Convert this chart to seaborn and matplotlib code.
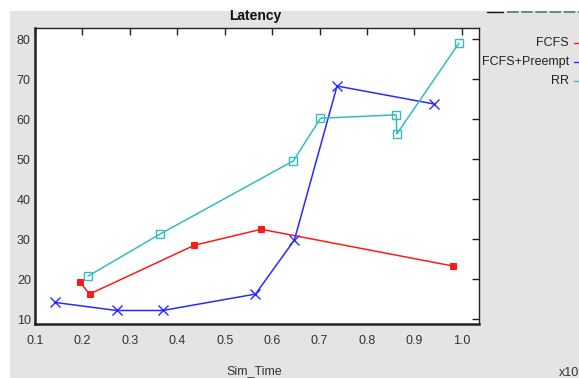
import numpy as np
import pandas as pd
import matplotlib
matplotlib.use("Agg")
import matplotlib.pyplot as plt
from matplotlib.patches import Rectangle
from matplotlib.lines import Line2D
import seaborn as sns

# valeurs
fcfs_x = [0.194, 0.215, 0.436, 0.577, 0.982]
fcfs_y = [19.4, 16.3, 28.5, 32.5, 23.3]

preempt_x = [0.143, 0.272, 0.369, 0.565, 0.647, 0.737, 0.942]
preempt_y = [14.2, 12.2, 12.2, 16.3, 29.8, 68.3, 63.8]

rr_x = [0.212, 0.363, 0.645, 0.702, 0.862, 0.863, 0.994]
rr_y = [20.8, 31.25, 49.6, 60.25, 61.1, 56.3, 79.0]

series_names = ["FCFS", "FCFS+Preempt", "RR"]
x_ticks = [0.1, 0.2, 0.3, 0.4, 0.5, 0.6, 0.7, 0.8, 0.9, 1.0]
y_ticks = [10, 20, 30, 40, 50, 60, 70, 80]

sns.set_style("white")
plt.rcParams["font.family"] = ["Liberation Sans", "DejaVu Sans"]

bg = "#e4e4e4"
fig = plt.figure(figsize=(5.79, 3.78), dpi=100)
fig.patch.set_facecolor("white")
fig.patches.append(Rectangle((10 / 579, 0), 1, 1 - 11 / 378, transform=fig.transFigure,
                             facecolor=bg, edgecolor="none", zorder=-10))
ax = fig.add_axes([35 / 579, 1 - 324.3 / 378, (479.3 - 35) / 579, (324.3 - 28) / 378])
ax.set_facecolor("white")

styles = [
    dict(color="#ff1a1a", marker="s", markersize=4, markerfacecolor="#ff1a1a", markeredgecolor="#ff1a1a"),
    dict(color="#2a2aff", marker="x", markersize=7, markeredgewidth=1, markeredgecolor="#2a2aff"),
    dict(color="#33bdbd", marker="s", markersize=6, markerfacecolor="none", markeredgecolor="#33bdbd", markeredgewidth=1),
]
for name, xs, ys, st in zip(series_names, [fcfs_x, preempt_x, rr_x], [fcfs_y, preempt_y, rr_y], styles):
    df = pd.DataFrame({"Sim_Time": xs, "Latency": ys})
    sns.lineplot(data=df, x="Sim_Time", y="Latency", sort=False, estimator=None,
                 ax=ax, linewidth=1.1, **st)

ax.set_xlim(0.1, 1.037)
ax.set_ylim(8.75, 82.8)
ax.set_xticks(x_ticks)
ax.set_xticklabels([f"{v:.1f}" for v in x_ticks])
ax.set_yticks(y_ticks)
ax.set_xlabel("")
ax.set_ylabel("")
ax.tick_params(axis="both", direction="in", length=5, width=1, color="#222222",
               labelsize=9, labelcolor="#333333", top=True, right=True,
               labeltop=False, labelright=False)
ax.tick_params(axis="x", pad=8)
ax.tick_params(axis="y", pad=3)
for side in ["left", "bottom"]:
    ax.spines[side].set_linewidth(1.8)
for side in ["top", "right"]:
    ax.spines[side].set_linewidth(1)
for sp in ax.spines.values():
    sp.set_color("#222222")
    sp.set_visible(True)

fig.text(255 / 579, 1 - 16 / 378, "Latency", ha="center", va="center",
         fontsize=10, fontweight="bold", color="#111111")
fig.text(254 / 579, 1 - 371 / 378, "Sim_Time", ha="center", va="center",
         fontsize=9, color="#333333")
fig.text(579 / 579, 1 - 373 / 378, "x10", ha="right", va="center",
         fontsize=9, color="#333333")

# légende à droite
leg_y = [43, 62, 81]
for name, yy, st in zip(series_names, leg_y, styles):
    fig.text(569 / 579, 1 - yy / 378, name, ha="right", va="center",
             fontsize=9, color="#222222")
    fig.add_artist(Line2D([574 / 579, 580 / 579], [1 - yy / 378] * 2,
                          transform=fig.transFigure, color=st["color"], linewidth=1))

# petite barre en haut à droite
fig.add_artist(Line2D([487 / 579, 503 / 579], [1 - 12 / 378] * 2,
                      transform=fig.transFigure, color="#111111", linewidth=1))
fig.add_artist(Line2D([507 / 579, 579 / 579], [1 - 12 / 378] * 2,
                      transform=fig.transFigure, color="#557777", linewidth=1.2,
                      linestyle=(0, (7, 1.5))))

fig.savefig("out.png", dpi=100, facecolor=fig.get_facecolor())
